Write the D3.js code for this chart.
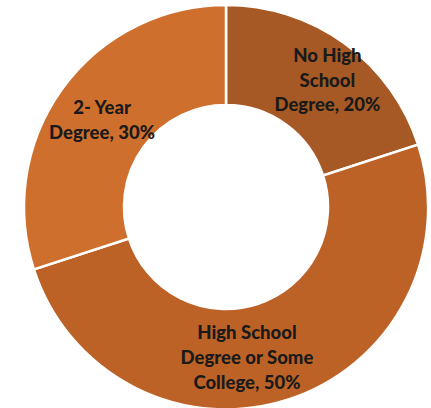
<!DOCTYPE html>
<html>
<head>
<meta charset="utf-8">
<script src="https://cdn.jsdelivr.net/npm/d3@7"></script>
<style>
  html, body { margin: 0; padding: 0; background: #fff; }
  svg { display: block; }
  .lbl { font-family: Lato, "Open Sans", sans-serif; font-weight: 900; fill: #1a1a1a; }
</style>
</head>
<body>
<script>
// data
var categories = ["No High School Degree", "High School Degree or Some College", "2- Year Degree"];
var values = [20, 50, 30];
var labelLines = [
    ["No High", "School", "Degree, 20%"],
    ["High School", "Degree or Some", "College, 50%"],
    ["2- Year", "Degree, 30%"]
];
var colors = ["#a65924", "#bd6227", "#cf6f2d"];

var width = 431, height = 408;
var cx = 226, cy = 207;
var outerR = 202, innerR = 102;
var lineH = 25;

// nudges so the labels sit where excel put them
var labelShift = [[12, -4], [-26, 6], [-1, 2]];

var svg = d3.select("body").append("svg")
    .attr("width", width)
    .attr("height", height);

var g = svg.append("g")
    .attr("transform", "translate(" + cx + "," + cy + ")");

var pie = d3.pie().sort(null).value(function (d) { return d; });
var arcs = pie(values);

var arc = d3.arc().innerRadius(innerR).outerRadius(outerR);

g.selectAll(".slice")
    .data(arcs)
    .enter().append("path")
    .attr("class", "slice")
    .attr("d", arc)
    .style("fill", function (d, i) { return colors[i]; })
    .style("stroke", "#fff")
    .style("stroke-width", 2.5);

var labels = g.selectAll(".lbl")
    .data(arcs)
    .enter().append("text")
    .attr("class", "lbl")
    .attr("text-anchor", "middle")
    .style("font-size", "18.5px")
    .attr("transform", function (d, i) {
        var c = arc.centroid(d);
        return "translate(" + (c[0] + labelShift[i][0]) + "," + (c[1] + labelShift[i][1]) + ")";
    });

labels.each(function (d, i) {
    var lines = labelLines[i];
    var t = d3.select(this);
    var y0 = -(lines.length - 1) * lineH / 2;
    lines.forEach(function (s, k) {
        t.append("tspan")
            .attr("x", 0)
            .attr("y", y0 + k * lineH)
            .attr("dy", "0.35em")
            .text(s);
    });
});
</script>
</body>
</html>
